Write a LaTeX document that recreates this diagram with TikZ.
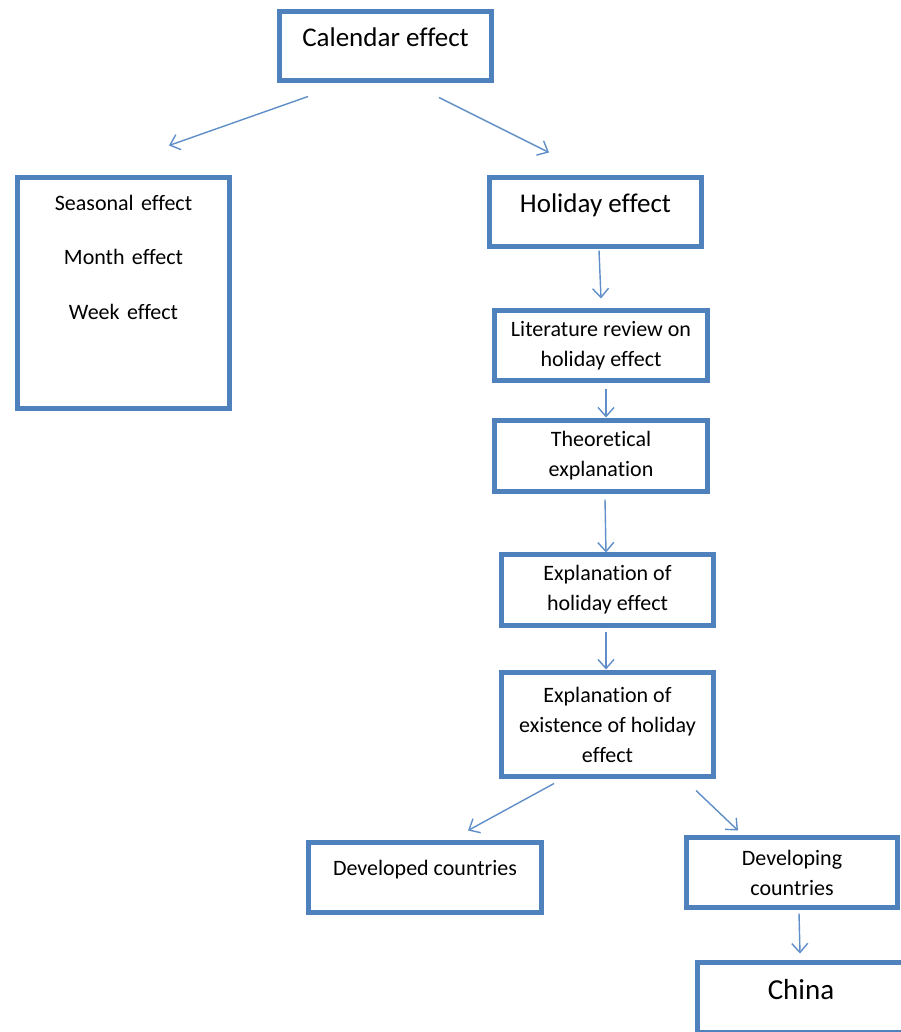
\documentclass[tikz,border=0pt]{standalone}
\usepackage{fontspec}
\setmainfont{Carlito}[Ligatures=NoCommon]
\usetikzlibrary{arrows.meta}
\definecolor{boxblue}{RGB}{79,129,189}
\definecolor{lineblue}{RGB}{96,142,200}

\begin{document}
\begin{tikzpicture}[
  x=1pt, y=-1pt,
  box/.style={draw=boxblue, line width=4.2pt, outer sep=0pt, inner sep=0pt, align=center, text=black},
  big/.style={box, font=\fontsize{27}{32}\selectfont, text height=19pt, text depth=17pt},
  small/.style={box, font=\fontsize{22}{30}\selectfont},
  arr/.style={-{Straight Barb[length=9pt,width=16pt]}, draw=lineblue, line width=1.4pt}
]
\useasboundingbox (0,0) rectangle (900,1032);

% top level
\node[big, minimum width=212, minimum height=69] (cal) at (385.5,46) {Calendar effect};
\node[small, font=\fontsize{22}{54}\selectfont, text width=200pt, text height=15pt, text depth=179pt,
      minimum width=212, minimum height=231] (seas) at (123.5,293) {Seasonal effect\\Month effect\\Week effect};
\node[big, minimum width=212, minimum height=69] (hol) at (595.5,212) {Holiday effect};

% holiday effect chain
\node[small, minimum width=213, minimum height=70] (lit) at (601,345.5) {Literature review on\\holiday effect};
\node[small, minimum width=213, minimum height=71] (theo) at (601,456) {Theoretical\\explanation};
\node[small, minimum width=212, minimum height=71] (expl) at (607.5,590) {Explanation of\\holiday effect};
\node[small, minimum width=212, minimum height=104] (exist) at (607.5,724.5) {Explanation of\\existence of holiday\\effect};

% countries
\node[small, text height=15pt, text depth=20pt, minimum width=233, minimum height=70] (dvd) at (425,877.5) {Developed countries};
\node[small, minimum width=211, minimum height=70] (dvg) at (792,872.5) {Developing\\countries};
\node[big, font=\fontsize{29}{34}\selectfont, text height=20pt, text depth=17pt,
      minimum width=207, minimum height=70] (china) at (801,997.5) {China};

\draw[arr] ([xshift=-77.5pt,yshift=-16pt]cal.south) -- ([xshift=45.5pt,yshift=32pt]seas.north);
\draw[arr] ([xshift=53.5pt,yshift=-17pt]cal.south) -- ([xshift=-46.5pt,yshift=25pt]hol.north);
\draw[arr] ([xshift=3.5pt,yshift=-4pt]hol.south) -- ([yshift=12pt]lit.north);
\draw[arr] ([xshift=5pt,yshift=-8pt]lit.south) -- ([xshift=5pt,yshift=3pt]theo.north);
\draw[arr] ([xshift=4pt,yshift=-8pt]theo.south) -- ([xshift=-1.5pt,yshift=2pt]expl.north);
\draw[arr] ([xshift=-1.5pt,yshift=-6pt]expl.south) -- ([xshift=-1.5pt,yshift=3pt]exist.north);
\draw[arr] ([xshift=-53.5pt,yshift=-7pt]exist.south) -- ([xshift=43pt,yshift=12pt]dvd.north);
\draw[arr] ([xshift=88.5pt,yshift=-14pt]exist.south) -- ([xshift=-54pt,yshift=7pt]dvg.north);
\draw[arr] ([xshift=7pt,yshift=-6pt]dvg.south) -- ([xshift=-1pt,yshift=9pt]china.north);
\end{tikzpicture}
\end{document}
